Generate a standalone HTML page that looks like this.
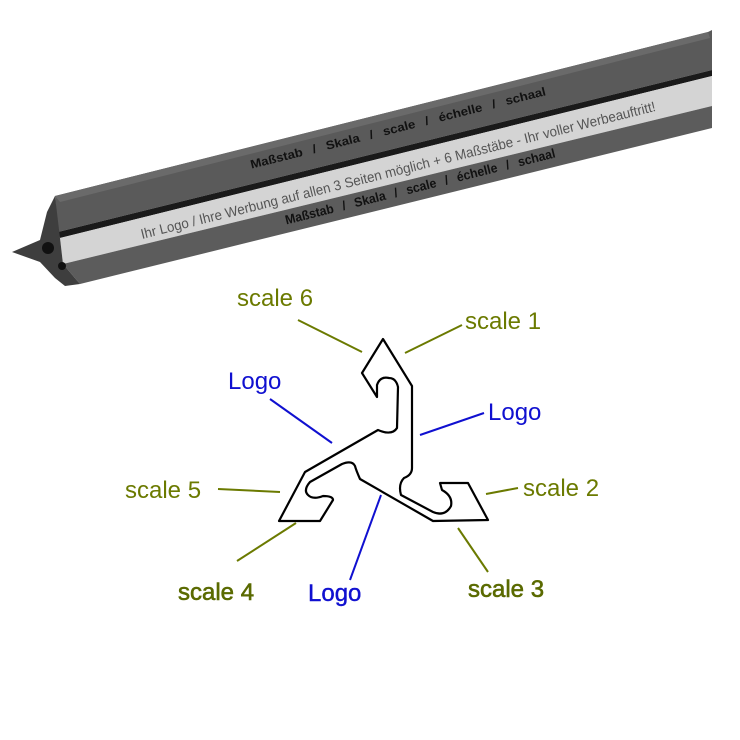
<!DOCTYPE html>
<html><head><style>body{margin:0;background:#fff}svg{display:block}</style></head><body>
<svg width="740" height="740" viewBox="0 0 740 740" xmlns="http://www.w3.org/2000/svg" font-family="Liberation Sans, sans-serif">
<!-- bar -->
<polygon points="55,196 708,32 712,30 712,70 58,232" fill="#5a5a5a"/>
<polygon points="55,196 708,32 710,38 60,202" fill="#6a6a6a"/>
<polygon points="58,232 712,70 712,76 60,238" fill="#1a1a1a"/>
<polygon points="60,238 712,76 712,106 63,264" fill="#d4d4d4"/>
<polygon points="63,264 712,106 712,128 80,284" fill="#5c5c5c"/>
<polygon points="47,212 55,196 60,238 63,264 80,284 65,286 55,278 40,262 12,252 40,240" fill="#3e3e3e"/>
<circle cx="48" cy="248" r="6" fill="#111"/>
<circle cx="62" cy="266" r="4" fill="#111"/>
<g transform="rotate(-14 398 128)"><text x="398" y="132" font-size="12" font-weight="bold" text-anchor="middle" fill="#111" textLength="304" lengthAdjust="spacingAndGlyphs" word-spacing="6">Maßstab  /  Skala  /  scale  /  échelle  /  schaal</text></g>
<g transform="rotate(-14 398 170)"><text x="398" y="175" font-size="14" text-anchor="middle" fill="#555" textLength="530" lengthAdjust="spacingAndGlyphs">Ihr Logo / Ihre Werbung auf allen 3 Seiten möglich + 6 Maßstäbe - Ihr voller Werbeauftritt!</text></g>
<g transform="rotate(-14 420 186)"><text x="420" y="191" font-size="13" font-weight="bold" text-anchor="middle" fill="#111" textLength="278" lengthAdjust="spacingAndGlyphs" word-spacing="6">Maßstab  /  Skala  /  scale  /  échelle  /  schaal</text></g>
<!-- profile -->
<path d="M383,339 L412,386 L412,468 Q412,475 404,478 Q398,484 401,495 L433,512 Q445,517 451,506 Q453,496 442,490 L440,483 L468,483 L488,520 L433,521 L360,479 Q356,470 355,466 Q352,460 342,464 L310,482 Q303,490 308,495 Q313,500 323,496 Q333,496 333,500 L320,521 L279,521 L305,472 L378,430 Q392,436 397,428 L398,387 Q396,378 389,378 Q380,376 377,385 L377,397 L362,373 Z" fill="#fff" stroke="#000" stroke-width="2.2" stroke-linejoin="round"/>
<!-- lines -->
<g stroke-width="2" fill="none">
<line x1="298" y1="320" x2="362" y2="352" stroke="#6b7a00"/>
<line x1="405" y1="353" x2="462" y2="325" stroke="#6b7a00"/>
<line x1="270" y1="399" x2="332" y2="443" stroke="#1010d0"/>
<line x1="420" y1="435" x2="484" y2="413" stroke="#1010d0"/>
<line x1="218" y1="489" x2="280" y2="492" stroke="#6b7a00"/>
<line x1="486" y1="494" x2="518" y2="488" stroke="#6b7a00"/>
<line x1="237" y1="561" x2="296" y2="523" stroke="#6b7a00"/>
<line x1="381" y1="495" x2="350" y2="580" stroke="#1010d0"/>
<line x1="458" y1="528" x2="488" y2="572" stroke="#6b7a00"/>
</g>
<g font-size="24">
<text x="237" y="306" fill="#6b7a00">scale 6</text>
<text x="465" y="329" fill="#6b7a00">scale 1</text>
<text x="228" y="389" fill="#1010d0">Logo</text>
<text x="488" y="420" fill="#1010d0">Logo</text>
<text x="125" y="498" fill="#6b7a00">scale 5</text>
<text x="523" y="496" fill="#6b7a00">scale 2</text>
<text x="178" y="600" fill="#5a6a00" stroke="#5a6a00" stroke-width="0.6">scale 4</text>
<text x="308" y="601" fill="#1010d0" stroke="#1010d0" stroke-width="0.4">Logo</text>
<text x="468" y="597" fill="#5a6a00" stroke="#5a6a00" stroke-width="0.6">scale 3</text>
</g>
</svg>
</body></html>
